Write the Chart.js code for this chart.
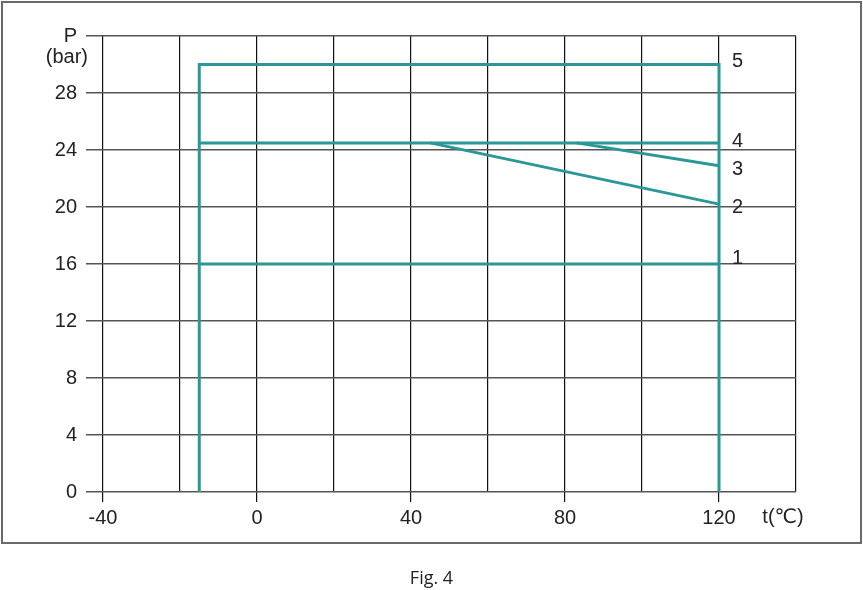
<!DOCTYPE html>
<html lang="en">
<head>
  <meta charset="UTF-8" />
  <title>Fig. 4 – Pressure vs temperature</title>
  <script src="https://cdn.jsdelivr.net/npm/chart.js"></script>
  <style>
    body { margin: 0; background: #fff; }
    .wrap { position: relative; width: 863px; height: 590px; }
    .frame { position: absolute; left: 1px; top: 1px; width: 861px; height: 543px;
             border: 2px solid #6a6a6a; box-sizing: border-box; pointer-events: none; }
    .caption { position: absolute; left: 0; width: 863px; top: 565px; text-align: center;
               font-family: 'Open Sans', 'Noto Sans', sans-serif; font-size: 18px; color: #222; }
    canvas { position: absolute; left: 0; top: 0; }
  </style>
</head>
<body>
  <div class="wrap">
    <canvas id="chart" width="863" height="590"></canvas>
    <div class="frame"></div>
    <div class="caption">Fig. 4</div>
  </div>

  <script>
    // temperature (°C) / pressure (bar) points of each curve
    const curve1T = [-15, 120];
    const curve1P = [16, 16];
    const curve2T = [45, 120];
    const curve2P = [24.5, 20.2];
    const curve3T = [83, 120];
    const curve3P = [24.5, 22.9];
    const curve4T = [-15, 120];
    const curve4P = [24.5, 24.5];
    const curve5T = [-15, -15, 120, 120];
    const curve5P = [0, 30, 30, 0];
    const curveNames = ["1", "2", "3", "4", "5"];
    const labelP = [16.4, 20.0, 22.6, 24.6, 30.2];   // where each number sits, right of t = 120

    const xGrid = [-40, -20, 0, 20, 40, 60, 80, 100, 120, 140];
    const xLabels = [-40, 0, 40, 80, 120];
    const yTicks = [0, 4, 8, 12, 16, 20, 24, 28, 32];

    const teal = "#2b9896";
    const font = "'Liberation Sans', Arial, 'DejaVu Sans', sans-serif";

    const pts = (t, p) => t.map((v, i) => ({ x: v, y: p[i] }));
    const line = (t, p) => ({
      data: pts(t, p), borderColor: teal, borderWidth: 3,
      pointRadius: 0, showLine: true, fill: false, tension: 0
    });

    const extras = {
      id: "extras",
      afterDraw(chart) {
        const { ctx, scales: { x, y } } = chart;
        ctx.save();
        ctx.fillStyle = "#222";
        ctx.font = "20px " + font;
        ctx.textBaseline = "middle";
        ctx.textAlign = "left";
        curveNames.forEach((n, i) => {
          ctx.fillText(n, x.getPixelForValue(120) + 13, y.getPixelForValue(labelP[i]));
        });
        ctx.textAlign = "right";
        ctx.fillText("(bar)", 88, 57);
        ctx.textAlign = "center";
        ctx.fillText("t(\u2103)", 783, 517);
        ctx.restore();
      }
    };

    new Chart(document.getElementById("chart"), {
      type: "scatter",
      data: {
        datasets: [
          line(curve1T, curve1P),
          line(curve2T, curve2P),
          line(curve3T, curve3P),
          line(curve4T, curve4P),
          line(curve5T, curve5P)
        ]
      },
      options: {
        responsive: false,
        animation: false,
        layout: { padding: { top: 36, right: 67, left: 0, bottom: 0 } },
        plugins: { legend: { display: false }, tooltip: { enabled: false } },
        scales: {
          x: {
            type: "linear", min: -40, max: 140,
            afterBuildTicks: s => { s.ticks = xGrid.map(v => ({ value: v })); },
            afterFit: s => { s.height = 98; },
            ticks: {
              autoSkip: false, maxRotation: 0, padding: 4, color: "#222",
              font: { family: font, size: 20 },
              callback: v => xLabels.includes(v) ? String(v) : ""
            },
            grid: {
              color: "#111", lineWidth: 1.2, tickLength: 10,
              tickColor: c => xLabels.includes(c.tick && c.tick.value) ? "#111" : "rgba(0,0,0,0)"
            },
            border: { display: false }
          },
          y: {
            type: "linear", min: 0, max: 32,
            afterBuildTicks: s => { s.ticks = yTicks.map(v => ({ value: v })); },
            afterFit: s => { s.width = 103; },
            ticks: {
              padding: 9, color: "#222",
              font: { family: font, size: 20 },
              callback: v => v === 32 ? "P" : String(v)
            },
            grid: { color: "#555", lineWidth: 1.5, tickLength: 17, tickColor: "#555" },
            border: { display: false }
          }
        }
      },
      plugins: [extras]
    });
  </script>
</body>
</html>
